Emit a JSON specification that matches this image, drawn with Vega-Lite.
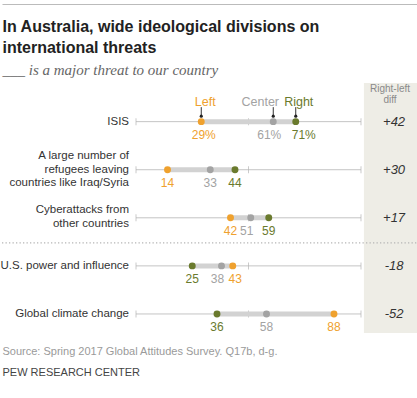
{
  "$schema": "https://vega.github.io/schema/vega-lite/v6.json",
  "width": 417,
  "height": 250,
  "padding": {"top": 4, "left": 0, "right": 0, "bottom": 0},
  "autosize": {"type": "pad"},
  "background": "#ffffff",
  "config": {"view": {"stroke": null}, "font": "Liberation Sans", "axis": {"grid": false}},
  "title": {
    "text": ["In Australia, wide ideological divisions on", "international threats"],
    "subtitle": "___ is a major threat to our country",
    "anchor": "start",
    "font": "Liberation Sans",
    "fontSize": 16,
    "fontWeight": "bold",
    "color": "#222222",
    "lineHeight": 21,
    "subtitleFont": "Liberation Serif",
    "subtitleFontStyle": "italic",
    "subtitleFontSize": 15,
    "subtitleColor": "#666666",
    "subtitlePadding": 7,
    "offset": 0,
    "dy": 74,
    "dx": 2
  },
  "datasets": {
    "pts": [
      {"item": "ISIS", "group": "Left", "value": 29, "lab": "29%"},
      {"item": "ISIS", "group": "Center", "value": 61, "lab": "61%"},
      {"item": "ISIS", "group": "Right", "value": 71, "lab": "71%"},
      {"item": "Refugees", "group": "Left", "value": 14, "lab": "14"},
      {"item": "Refugees", "group": "Center", "value": 33, "lab": "33"},
      {"item": "Refugees", "group": "Right", "value": 44, "lab": "44"},
      {"item": "Cyber", "group": "Left", "value": 42, "lab": "42"},
      {"item": "Cyber", "group": "Center", "value": 51, "lab": "51"},
      {"item": "Cyber", "group": "Right", "value": 59, "lab": "59"},
      {"item": "US", "group": "Left", "value": 43, "lab": "43"},
      {"item": "US", "group": "Center", "value": 38, "lab": "38"},
      {"item": "US", "group": "Right", "value": 25, "lab": "25"},
      {"item": "Climate", "group": "Left", "value": 88, "lab": "88"},
      {"item": "Climate", "group": "Center", "value": 58, "lab": "58"},
      {"item": "Climate", "group": "Right", "value": 36, "lab": "36"}
    ],
    "items": [
      {"item": "ISIS", "name": "ISIS", "lines": 1, "diff": "+42"},
      {"item": "Refugees", "name": "A large number of\nrefugees leaving\ncountries like Iraq/Syria", "lines": 3, "diff": "+30"},
      {"item": "Cyber", "name": "Cyberattacks from\nother countries", "lines": 2, "diff": "+17"},
      {"item": "US", "name": "U.S. power and influence", "lines": 1, "diff": "-18"},
      {"item": "Climate", "name": "Global climate change", "lines": 1, "diff": "-52"}
    ],
    "one": [{}]
  },
  "resolve": {"axis": {"x": "independent"}},
  "layer": [
    {
      "data": {"name": "one"},
      "mark": {"type": "rect", "color": "#EEEDE6"},
      "encoding": {
        "x": {
          "datum": 101.3,
          "type": "quantitative",
          "scale": {"domain": [-59.56, 125.78], "nice": false, "zero": false},
          "axis": {
            "orient": "bottom",
            "title": "Source: Spring 2017 Global Attitudes Survey. Q17b, d-g.",
            "titleAnchor": "start",
            "titleAlign": "left",
            "titleFont": "Liberation Sans",
            "titleFontSize": 11,
            "titleFontWeight": "normal",
            "titleColor": "#9A9A9A",
            "titlePadding": 12,
            "labels": false,
            "ticks": false,
            "domain": false,
            "grid": false
          }
        },
        "x2": {"datum": 125.78}
      }
    },
    {
      "data": {"name": "one"},
      "mark": {"type": "point", "opacity": 0},
      "encoding": {
        "x": {
          "datum": 0,
          "type": "quantitative",
          "axis": {
            "orient": "bottom",
            "offset": 20,
            "title": "PEW RESEARCH CENTER",
            "titleAnchor": "start",
            "titleAlign": "left",
            "titleFont": "Liberation Sans",
            "titleFontSize": 11,
            "titleFontWeight": "normal",
            "titleColor": "#444444",
            "titlePadding": 13,
            "labels": false,
            "ticks": false,
            "domain": false,
            "grid": false
          }
        }
      }
    },
    {
      "data": {"name": "one"},
      "mark": {"type": "point", "opacity": 0},
      "encoding": {
        "x": {
          "datum": 0,
          "type": "quantitative",
          "axis": {"orient": "bottom", "offset": 57, "zindex": 2, "title": null, "labels": false, "ticks": false, "domain": true, "domainColor": "#BBBBBB", "domainOpacity": 1, "domainWidth": 1, "grid": false}
        }
      }
    },
    {
      "data": {"name": "one"},
      "mark": {"type": "point", "opacity": 0},
      "encoding": {
        "x": {
          "datum": 0,
          "type": "quantitative",
          "axis": {"orient": "top", "offset": 79, "zindex": 2, "title": null, "labels": false, "ticks": false, "domain": true, "domainColor": "#BBBBBB", "domainOpacity": 1, "domainWidth": 1, "grid": false}
        }
      }
    },
    {
      "data": {"name": "one"},
      "mark": {"type": "text", "lineBreak": "\n", "align": "center", "baseline": "middle", "fontSize": 10, "lineHeight": 11, "color": "#8A8A8A", "dy": -33},
      "encoding": {
        "text": {"value": "Right-left\ndiff"},
        "x": {"datum": 112.9, "type": "quantitative", "axis": null},
        "y": {"datum": "ISIS", "type": "nominal", "axis": null}
      }
    },
    {
      "data": {"name": "one"},
      "mark": {"type": "rule", "color": "#B5B5B5", "strokeWidth": 1.3, "strokeDash": [1.3, 2.2], "yOffset": 25},
      "encoding": {
        "x": {"datum": -59.56, "type": "quantitative", "axis": null},
        "x2": {"datum": 125.78},
        "y": {"datum": "Cyber", "type": "nominal", "axis": null}
      }
    },
    {
      "data": {"name": "items"},
      "mark": {"type": "rule", "color": "#C4C4C4", "strokeWidth": 1},
      "encoding": {
        "x": {"datum": 0, "type": "quantitative", "axis": null},
        "x2": {"datum": 100},
        "y": {
          "field": "item",
          "type": "nominal",
          "axis": null,
          "scale": {"type": "point", "domain": ["ISIS", "Refugees", "Cyber", "US", "Climate"], "padding": 0.6, "align": 0.67}
        }
      }
    },
    {
      "data": {"name": "items"},
      "mark": {"type": "tick", "orient": "vertical", "size": 7, "thickness": 1, "color": "#B5B5B5"},
      "encoding": {
        "x": {"datum": 0, "type": "quantitative", "axis": null},
        "y": {"field": "item", "type": "nominal", "axis": null}
      }
    },
    {
      "data": {"name": "items"},
      "mark": {"type": "tick", "orient": "vertical", "size": 7, "thickness": 1, "color": "#B5B5B5"},
      "encoding": {
        "x": {"datum": 50, "type": "quantitative", "axis": null},
        "y": {"field": "item", "type": "nominal", "axis": null}
      }
    },
    {
      "data": {"name": "items"},
      "mark": {"type": "tick", "orient": "vertical", "size": 7, "thickness": 1, "color": "#B5B5B5"},
      "encoding": {
        "x": {"datum": 100, "type": "quantitative", "axis": null},
        "y": {"field": "item", "type": "nominal", "axis": null}
      }
    },
    {
      "data": {"name": "pts"},
      "mark": {"type": "rule", "color": "#D2D2D2", "strokeWidth": 5},
      "encoding": {
        "x": {"aggregate": "min", "field": "value", "type": "quantitative", "axis": null},
        "x2": {"aggregate": "max", "field": "value"},
        "y": {"field": "item", "type": "nominal", "axis": null}
      }
    },
    {
      "data": {"name": "pts"},
      "transform": [{"filter": "datum.item === 'ISIS'"}],
      "mark": {"type": "point", "shape": "M0,-1L0,1", "filled": false, "strokeWidth": 1, "color": "#333333", "size": 81, "yOffset": -10, "opacity": 1},
      "encoding": {
        "x": {"field": "value", "type": "quantitative", "axis": null},
        "y": {"field": "item", "type": "nominal", "axis": null}
      }
    },
    {
      "data": {"name": "pts"},
      "transform": [{"filter": "datum.item === 'ISIS'"}],
      "mark": {"type": "circle", "color": "#222222", "size": 10, "yOffset": -5.5, "opacity": 1},
      "encoding": {
        "x": {"field": "value", "type": "quantitative", "axis": null},
        "y": {"field": "item", "type": "nominal", "axis": null}
      }
    },
    {
      "data": {"name": "pts"},
      "transform": [{"filter": "datum.item === 'ISIS' && datum.group === 'Left'"}],
      "mark": {"type": "text", "fontSize": 12.5, "baseline": "middle", "align": "center", "dy": -20, "dx": 4},
      "encoding": {
        "x": {"field": "value", "type": "quantitative", "axis": null},
        "y": {"field": "item", "type": "nominal", "axis": null},
        "text": {"field": "group"},
        "color": {"field": "group", "type": "nominal", "legend": null, "scale": {"domain": ["Left", "Center", "Right"], "range": ["#EFA12E", "#A3A3A3", "#6A7A2D"]}}
      }
    },
    {
      "data": {"name": "pts"},
      "transform": [{"filter": "datum.item === 'ISIS' && datum.group === 'Center'"}],
      "mark": {"type": "text", "fontSize": 12.5, "baseline": "middle", "align": "center", "dy": -20, "dx": -13},
      "encoding": {
        "x": {"field": "value", "type": "quantitative", "axis": null},
        "y": {"field": "item", "type": "nominal", "axis": null},
        "text": {"field": "group"},
        "color": {"field": "group", "type": "nominal", "legend": null}
      }
    },
    {
      "data": {"name": "pts"},
      "transform": [{"filter": "datum.item === 'ISIS' && datum.group === 'Right'"}],
      "mark": {"type": "text", "fontSize": 12.5, "baseline": "middle", "align": "center", "dy": -20, "dx": 3},
      "encoding": {
        "x": {"field": "value", "type": "quantitative", "axis": null},
        "y": {"field": "item", "type": "nominal", "axis": null},
        "text": {"field": "group"},
        "color": {"field": "group", "type": "nominal", "legend": null}
      }
    },
    {
      "data": {"name": "pts"},
      "mark": {"type": "circle", "size": 48, "opacity": 1},
      "encoding": {
        "x": {"field": "value", "type": "quantitative", "axis": null},
        "y": {"field": "item", "type": "nominal", "axis": null},
        "color": {"field": "group", "type": "nominal", "legend": null}
      }
    },
    {
      "data": {"name": "pts"},
      "transform": [{"filter": "!((datum.item === 'ISIS') || (datum.item === 'Cyber' && datum.group === 'Center') || (datum.item === 'US' && datum.group !== 'Right'))"}],
      "mark": {"type": "text", "fontSize": 12, "baseline": "middle", "align": "center", "dy": 13},
      "encoding": {
        "x": {"field": "value", "type": "quantitative", "axis": null},
        "y": {"field": "item", "type": "nominal", "axis": null},
        "text": {"field": "lab"},
        "color": {"field": "group", "type": "nominal", "legend": null}
      }
    },
    {
      "data": {"name": "pts"},
      "transform": [{"filter": "datum.group === 'Center' && (datum.item === 'ISIS' || datum.item === 'Cyber' || datum.item === 'US')"}],
      "mark": {"type": "text", "fontSize": 12, "baseline": "middle", "align": "center", "dy": 13, "dx": -4},
      "encoding": {
        "x": {"field": "value", "type": "quantitative", "axis": null},
        "y": {"field": "item", "type": "nominal", "axis": null},
        "text": {"field": "lab"},
        "color": {"field": "group", "type": "nominal", "legend": null}
      }
    },
    {
      "data": {"name": "pts"},
      "transform": [{"filter": "datum.group === 'Left' && (datum.item === 'ISIS' || datum.item === 'US')"}],
      "mark": {"type": "text", "fontSize": 12, "baseline": "middle", "align": "center", "dy": 13, "dx": 2.5},
      "encoding": {
        "x": {"field": "value", "type": "quantitative", "axis": null},
        "y": {"field": "item", "type": "nominal", "axis": null},
        "text": {"field": "lab"},
        "color": {"field": "group", "type": "nominal", "legend": null}
      }
    },
    {
      "data": {"name": "pts"},
      "transform": [{"filter": "datum.group === 'Right' && datum.item === 'ISIS'"}],
      "mark": {"type": "text", "fontSize": 12, "baseline": "middle", "align": "center", "dy": 13, "dx": 8},
      "encoding": {
        "x": {"field": "value", "type": "quantitative", "axis": null},
        "y": {"field": "item", "type": "nominal", "axis": null},
        "text": {"field": "lab"},
        "color": {"field": "group", "type": "nominal", "legend": null}
      }
    },
    {
      "data": {"name": "items"},
      "transform": [{"filter": "datum.lines === 1"}],
      "mark": {"type": "text", "fontSize": 11.5, "lineHeight": 13.5, "lineBreak": "\n", "baseline": "middle", "align": "right", "dx": -7, "color": "#333333"},
      "encoding": {
        "x": {"datum": 0, "type": "quantitative", "axis": null},
        "y": {"field": "item", "type": "nominal", "axis": null},
        "text": {"field": "name"}
      }
    },
    {
      "data": {"name": "items"},
      "transform": [{"filter": "datum.lines === 2"}],
      "mark": {"type": "text", "fontSize": 11.5, "lineHeight": 13.5, "lineBreak": "\n", "baseline": "middle", "align": "right", "dx": -7, "dy": -7.5, "color": "#333333"},
      "encoding": {
        "x": {"datum": 0, "type": "quantitative", "axis": null},
        "y": {"field": "item", "type": "nominal", "axis": null},
        "text": {"field": "name"}
      }
    },
    {
      "data": {"name": "items"},
      "transform": [{"filter": "datum.lines === 3"}],
      "mark": {"type": "text", "fontSize": 11.5, "lineHeight": 13.5, "lineBreak": "\n", "baseline": "middle", "align": "right", "dx": -7, "dy": -13.5, "color": "#333333"},
      "encoding": {
        "x": {"datum": 0, "type": "quantitative", "axis": null},
        "y": {"field": "item", "type": "nominal", "axis": null},
        "text": {"field": "name"}
      }
    },
    {
      "data": {"name": "items"},
      "mark": {"type": "text", "fontSize": 13, "fontStyle": "italic", "baseline": "middle", "align": "center", "color": "#333333"},
      "encoding": {
        "x": {"datum": 114.7, "type": "quantitative", "axis": null},
        "y": {"field": "item", "type": "nominal", "axis": null},
        "text": {"field": "diff"}
      }
    }
  ]
}
